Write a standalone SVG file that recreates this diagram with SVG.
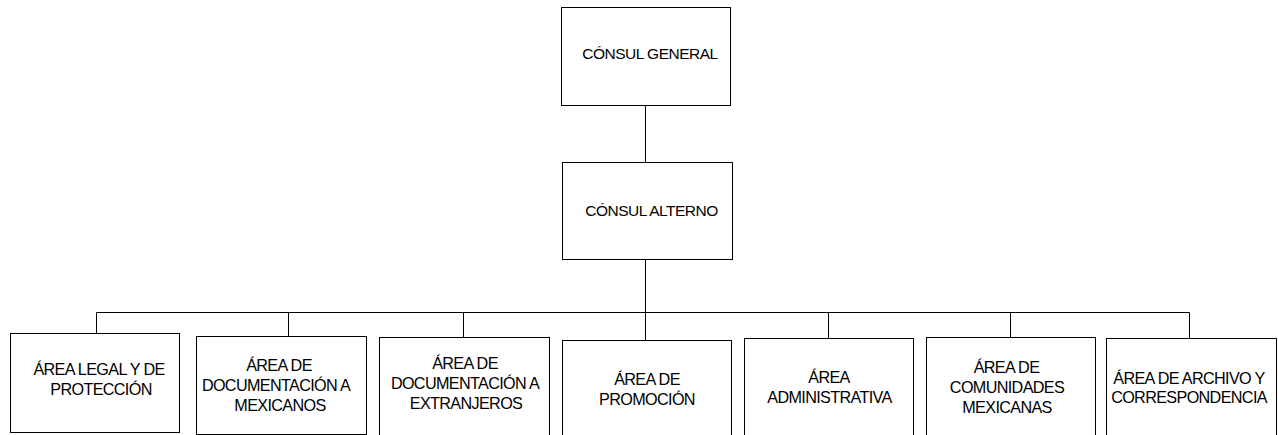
<svg xmlns="http://www.w3.org/2000/svg" width="1278" height="435" viewBox="0 0 1278 435">
<style>
.box{fill:#fff;stroke:#000;stroke-width:1}
.ln{fill:none;stroke:#000;stroke-width:1}
text{font-family:"Liberation Sans",Arial,sans-serif;fill:#000;text-anchor:middle}
.t{font-size:15.5px;letter-spacing:-0.5px}
.b{font-size:16.2px;letter-spacing:-0.65px}
</style>
<rect width="1278" height="435" fill="#fff"/>
<g id="connectors">
<path class="ln" d="M645.5 105.5V162.5M645.5 259.5V340.5M96.5 312.5H1189.5M96.5 312.5V333.5M288.5 312.5V336.5M463.5 312.5V337.5M828.5 312.5V338.5M1010.5 312.5V337.5M1189.5 312.5V338.5"/>
</g>
<g id="consul-general">
<rect class="box" x="561.5" y="7.5" width="169" height="98"/>
<text class="t" x="650" y="59">CÓNSUL GENERAL</text>
</g>
<g id="consul-alterno">
<rect class="box" x="562.5" y="162.5" width="170" height="97"/>
<text class="t" x="651.5" y="216">CÓNSUL ALTERNO</text>
</g>
<g id="area-legal">
<rect class="box" x="10.5" y="333.5" width="169" height="99"/>
<text class="b" x="99" y="375">ÁREA LEGAL Y DE</text>
<text class="b" x="101" y="395">PROTECCIÓN</text>
</g>
<g id="area-doc-mex">
<rect class="box" x="196.5" y="336.5" width="170" height="98"/>
<text class="b" x="279" y="371">ÁREA DE</text>
<text class="b" x="276" y="391">DOCUMENTACIÓN A</text>
<text class="b" x="280" y="411">MEXICANOS</text>
</g>
<g id="area-doc-ext">
<rect class="box" x="379.5" y="337.5" width="170" height="98"/>
<text class="b" x="465" y="369">ÁREA DE</text>
<text class="b" x="465" y="389">DOCUMENTACIÓN A</text>
<text class="b" x="466" y="409">EXTRANJEROS</text>
</g>
<g id="area-promocion">
<rect class="box" x="562.5" y="340.5" width="169" height="100"/>
<text class="b" x="647" y="385">ÁREA DE</text>
<text class="b" x="647" y="405">PROMOCIÓN</text>
</g>
<g id="area-administrativa">
<rect class="box" x="744.5" y="338.5" width="169" height="100"/>
<text class="b" x="829" y="383">ÁREA</text>
<text class="b" x="829.5" y="403">ADMINISTRATIVA</text>
</g>
<g id="area-comunidades">
<rect class="box" x="926.5" y="337.5" width="169" height="100"/>
<text class="b" x="1006.5" y="373">ÁREA DE</text>
<text class="b" x="1007" y="393">COMUNIDADES</text>
<text class="b" x="1007" y="413">MEXICANAS</text>
</g>
<g id="area-archivo">
<rect class="box" x="1106.5" y="338.5" width="170" height="100"/>
<text class="b" x="1189" y="384">ÁREA DE ARCHIVO Y</text>
<text class="b" x="1189" y="403">CORRESPONDENCIA</text>
</g>
</svg>
